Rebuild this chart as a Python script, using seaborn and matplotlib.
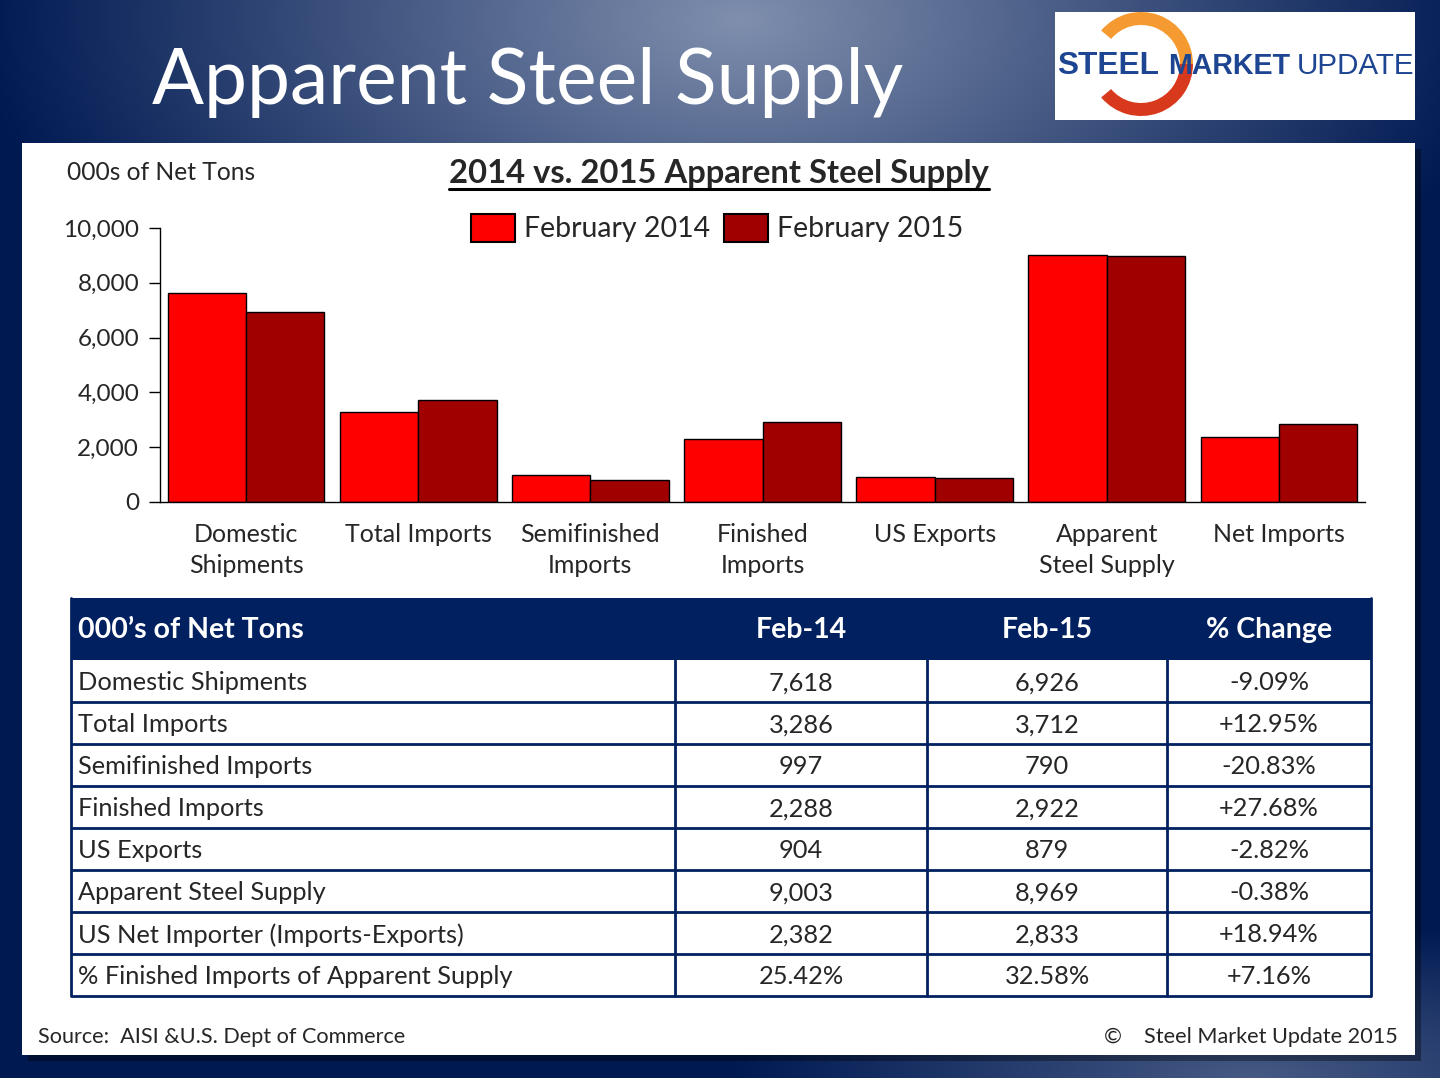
import numpy as np
import pandas as pd
import matplotlib.pyplot as plt
import seaborn as sns
from matplotlib.patches import Rectangle, Wedge
from matplotlib.ticker import FuncFormatter

# Data
categories = ["Domestic\nShipments", "Total Imports", "Semifinished\nImports", "Finished\nImports",
              "US Exports", "Apparent\nSteel Supply", "Net Imports"]
feb_2014 = [7618, 3286, 997, 2288, 904, 9003, 2382]
feb_2015 = [6926, 3712, 790, 2922, 879, 8969, 2833]
series_names = ["February 2014", "February 2015"]

table_rows = ["Domestic Shipments", "Total Imports", "Semifinished Imports", "Finished Imports",
              "US Exports", "Apparent Steel Supply", "US Net Importer (Imports-Exports)",
              "% Finished Imports of Apparent Supply"]
finished_share = [25.42, 32.58]
pct_change = [-9.09, 12.95, -20.83, 27.68, -2.82, -0.38, 18.94, 7.16]
table_header = ["000\u2019s of Net Tons", "Feb-14", "Feb-15", "% Change"]

palette = {"February 2014": "#ff0000", "February 2015": "#a00000"}
navy = "#002060"

sns.set_theme(style="white")
plt.rcParams["font.family"] = ["Lato", "DejaVu Sans"]

W, H = 1440, 1078
fig = plt.figure(figsize=(W / 100, H / 100), dpi=100)

# background layer in pixel coordinates
bg = fig.add_axes([0, 0, 1, 1])
bg.set_xlim(0, W)
bg.set_ylim(H, 0)
bg.axis("off")

xx, yy = np.meshgrid(np.arange(W), np.arange(H))
t1 = np.clip(1 - np.sqrt(((xx - 740) / 760) ** 2 + ((yy - 20) / 420) ** 2), 0, 1)
t2 = np.clip(1 - np.sqrt(((xx - 1250) / 520) ** 2 + ((yy - 1078) / 160) ** 2), 0, 1) * 0.55
t = np.maximum(t1, t2)
dark = np.array([0.0, 0.10, 0.32])
light = np.array([0.50, 0.56, 0.68])
img = dark + (light - dark) * t[..., None]
bg.imshow(img, extent=(0, W, H, 0), aspect="auto", zorder=0)

# main title
bg.text(152, 82, "Apparent Steel Supply", color="white", fontsize=55.4, ha="left", va="center", zorder=3)

# logo
bg.add_patch(Rectangle((1055, 12), 360, 108, facecolor="white", edgecolor="none", zorder=2))
bg.add_patch(Wedge((1141, 64), 52, -140, 0, width=13, facecolor="#f59a30", edgecolor="none", zorder=3))
bg.add_patch(Wedge((1141, 64), 52, 0, 140, width=13, facecolor="#d8391d", edgecolor="none", zorder=3))
logo_blue = "#1d4591"
bg.text(1057, 66, "STEEL", color=logo_blue, fontsize=22.8, fontweight="bold", family="Liberation Sans",
        ha="left", va="center", zorder=4)
bg.text(1168, 66, "MARKET", color=logo_blue, fontsize=20.6, fontweight="bold", family="Liberation Sans",
        ha="left", va="center", zorder=4)
bg.text(1297, 66, "UPDATE", color=logo_blue, fontsize=21.3, family="Liberation Sans",
        ha="left", va="center", zorder=4)

# white panel with shadow
bg.add_patch(Rectangle((28, 149), 1393, 912, facecolor="black", alpha=0.35, edgecolor="none", zorder=1))
bg.add_patch(Rectangle((22, 143), 1393, 912, facecolor="white", edgecolor="none", zorder=2))

bg.text(67, 172, "000s of Net Tons", fontsize=17.7, ha="left", va="center", zorder=3)
ttl = bg.text(719, 173, "2014 vs. 2015 Apparent Steel Supply", fontsize=23.6, fontweight="bold",
              ha="center", va="center", zorder=3)

# bar chart
df = pd.DataFrame({
    "Categoria": categories * 2,
    "Valore": feb_2014 + feb_2015,
    "Serie": [series_names[0]] * len(categories) + [series_names[1]] * len(categories),
})
ax = fig.add_axes([160 / W, 1 - 502 / H, 1205 / W, 274 / H])
sns.barplot(data=df, x="Categoria", y="Valore", hue="Serie", palette=palette, saturation=1,
            edgecolor="black", linewidth=1, width=0.91, gap=0, legend=False, ax=ax)
ax.set_facecolor("none")
ax.set_xlim(-0.5, len(categories) - 0.5)
ax.set_ylim(0, 10000)
ax.set_yticks(range(0, 10001, 2000))
ax.yaxis.set_major_formatter(FuncFormatter(lambda v, p: f"{int(v):,}"))
ax.set_xlabel("")
ax.set_ylabel("")
for s in ["top", "right"]:
    ax.spines[s].set_visible(False)
for s in ["left", "bottom"]:
    ax.spines[s].set_color("black")
    ax.spines[s].set_linewidth(1)
ax.tick_params(axis="y", which="major", left=True, length=8, width=1, color="black",
               labelsize=17.5, pad=7, direction="out")
ax.tick_params(axis="x", bottom=False, labelsize=18, pad=9)
for lab in ax.get_xticklabels():
    lab.set_linespacing(1.45)

handles = [Rectangle((0, 0), 1, 1, facecolor=palette[n], edgecolor="black", linewidth=1.5) for n in series_names]
ax.legend(handles, series_names, loc="center", bbox_to_anchor=(717 / W, 1 - 228 / H),
          bbox_transform=fig.transFigure, ncol=2, frameon=False, fontsize=20.5,
          handlelength=1.55, handleheight=1.15, columnspacing=0.5, handletextpad=0.3)

# table
x0, x1 = 71, 1371
col_edges = [71, 675, 927, 1167, 1371]
hdr_top, hdr_bot, row_h = 598, 660, 42
bg.add_patch(Rectangle((x0, hdr_top), x1 - x0, hdr_bot - hdr_top, facecolor=navy, edgecolor="none", zorder=3))
centers = [(col_edges[i] + col_edges[i + 1]) / 2 for i in range(1, 4)]
hy = (hdr_top + hdr_bot) / 2 + 1
bg.text(78, hy, table_header[0], color="white", fontsize=20.5, fontweight="bold", ha="left", va="center", zorder=4)
for c, lab in zip(centers, table_header[1:]):
    bg.text(c, hy, lab, color="white", fontsize=20.5, fontweight="bold", ha="center", va="center", zorder=4)

n_rows = len(table_rows)
bottom = hdr_bot + row_h * n_rows
for i in range(1, n_rows + 1):
    y = hdr_bot + row_h * i
    bg.plot([x0, x1], [y, y], color=navy, lw=2, zorder=4, solid_capstyle="butt")
for xe in col_edges[1:-1]:
    bg.plot([xe, xe], [hdr_bot, bottom], color=navy, lw=2, zorder=4)
for xe in [x0, x1]:
    bg.plot([xe, xe], [hdr_top, bottom], color=navy, lw=2, zorder=4)

for i, name in enumerate(table_rows):
    y = hdr_bot + row_h * i + row_h / 2 + 2
    if i < len(feb_2014):
        v14, v15 = f"{feb_2014[i]:,}", f"{feb_2015[i]:,}"
    else:
        v14, v15 = f"{finished_share[0]:.2f}%", f"{finished_share[1]:.2f}%"
    ch = f"{pct_change[i]:+.2f}%"
    bg.text(78, y, name, fontsize=18.3, ha="left", va="center", zorder=4)
    for c, s in zip(centers, [v14, v15, ch]):
        bg.text(c, y, s, fontsize=18.3, ha="center", va="center", zorder=4)

# footer
bg.text(38, 1037, "Source:  AISI &U.S. Dept of Commerce", fontsize=15.6, ha="left", va="center", zorder=3)
bg.text(1398, 1037, "\u00a9    Steel Market Update 2015", fontsize=15.6, ha="right", va="center", zorder=3)

# underline for chart title
fig.canvas.draw()
bb = ttl.get_window_extent()
inv = bg.transData.inverted()
(ux0, _), (ux1, _) = inv.transform([(bb.x0, bb.y0), (bb.x1, bb.y0)])
bg.plot([ux0, ux1], [189, 189], color="black", lw=2.2, zorder=3)

fig.savefig("out.png", dpi=100)
